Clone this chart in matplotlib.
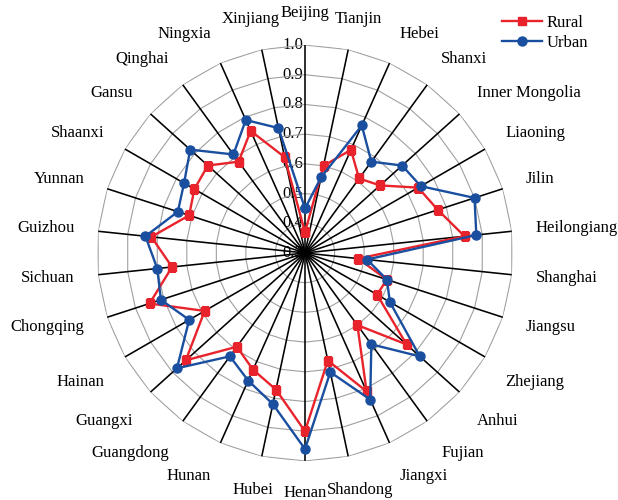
import numpy as np
import matplotlib
matplotlib.use("Agg")
import matplotlib.pyplot as plt

plt.rcParams["font.family"] = ["Liberation Serif", "DejaVu Serif"]
plt.rcParams["font.size"] = 12

# provinces, clockwise from the top
provinces = ["Beijing", "Tianjin", "Hebei", "Shanxi", "Inner Mongolia", "Liaoning",
             "Jilin", "Heilongiang", "Shanghai", "Jiangsu", "Zhejiang", "Anhui",
             "Fujian", "Jiangxi", "Shandong", "Henan", "Hubei", "Hunan",
             "Guangdong", "Guangxi", "Hainan", "Chongqing", "Sichuan", "Guizhou",
             "Yunnan", "Shaanxi", "Gansu", "Qinghai", "Ningxia", "Xinjiang"]

rural = [0.37, 0.60, 0.68, 0.61, 0.64, 0.74, 0.77, 0.84, 0.48, 0.59,
         0.58, 0.76, 0.60, 0.81, 0.67, 0.90, 0.77, 0.73, 0.69, 0.84,
         0.69, 0.85, 0.75, 0.82, 0.71, 0.73, 0.74, 0.68, 0.75, 0.63]
urban = [0.45, 0.56, 0.77, 0.68, 0.74, 0.75, 0.90, 0.88, 0.51, 0.59,
         0.63, 0.82, 0.68, 0.84, 0.71, 0.96, 0.82, 0.77, 0.73, 0.88,
         0.75, 0.81, 0.80, 0.84, 0.75, 0.77, 0.82, 0.71, 0.79, 0.73]

r_ticks = [0.3, 0.4, 0.5, 0.6, 0.7, 0.8, 0.9, 1.0]

RED = "#E8232B"
BLUE = "#1A4FA0"

n = len(provinces)
angles = np.linspace(0, 2 * np.pi, n, endpoint=False)
closed = np.append(angles, angles[0])

fig = plt.figure(figsize=(6.18, 5.0), dpi=100)
ax = fig.add_axes([0.157, 0.078, 0.673, 0.832], projection="polar")
ax.set_theta_zero_location("N")
ax.set_theta_direction(-1)
ax.set_ylim(r_ticks[0], r_ticks[-1])
ax.spines["polar"].set_visible(False)
ax.set_axisbelow(True)

# spokes
ax.set_xticks(angles)
ax.set_xticklabels([])
ax.xaxis.grid(True, color="black", linewidth=1.15)
ax.set_yticks([])
ax.tick_params(length=0)

# polygon rings
for r in r_ticks[1:]:
    ax.plot(closed, [r] * (n + 1), color="#a0a0a0", linewidth=0.8, zorder=0.4)

# radial value labels along the first spoke
for r in r_ticks:
    ax.annotate(f"{r:.1f}", xy=(0, r), xytext=(-1.5, 0), textcoords="offset points",
                ha="right", va="center", zorder=0.3, annotation_clip=False)

ax.plot(closed, rural + rural[:1], color=RED, linewidth=1.7, marker="s",
        markersize=5.5, label="Rural", zorder=3)
ax.plot(closed, urban + urban[:1], color=BLUE, linewidth=1.7, marker="o",
        markersize=6.5, label="Urban", zorder=4)

# category labels just outside the outer ring
labels = []
for name, a in zip(provinces, angles):
    t = ax.annotate(name, xy=(a, 1.08), xytext=(0, 0), textcoords="offset points",
                    ha="center", va="center", annotation_clip=False)
    labels.append((t, a))

fig.canvas.draw()
renderer = fig.canvas.get_renderer()
px = 72 / fig.dpi
for t, a in labels:
    bb = t.get_window_extent(renderer)
    w, h = bb.width * px, bb.height * px
    s, c = np.sin(a), np.cos(a)
    fx = s if abs(s) < 0.3 else np.sign(s)
    dy = c * h / 2
    if c < -0.4:
        # lower labels sit a little further out
        dy -= 10 * abs(s) * px
    t.xyann = (fx * w / 2, dy)

fig.legend(loc="upper left", bbox_to_anchor=(0.812, 0.97), frameon=False,
           handlelength=2.4, handletextpad=0.3, labelspacing=0.25,
           borderaxespad=0, borderpad=0)

fig.savefig("out.png", dpi=100, facecolor="white")
